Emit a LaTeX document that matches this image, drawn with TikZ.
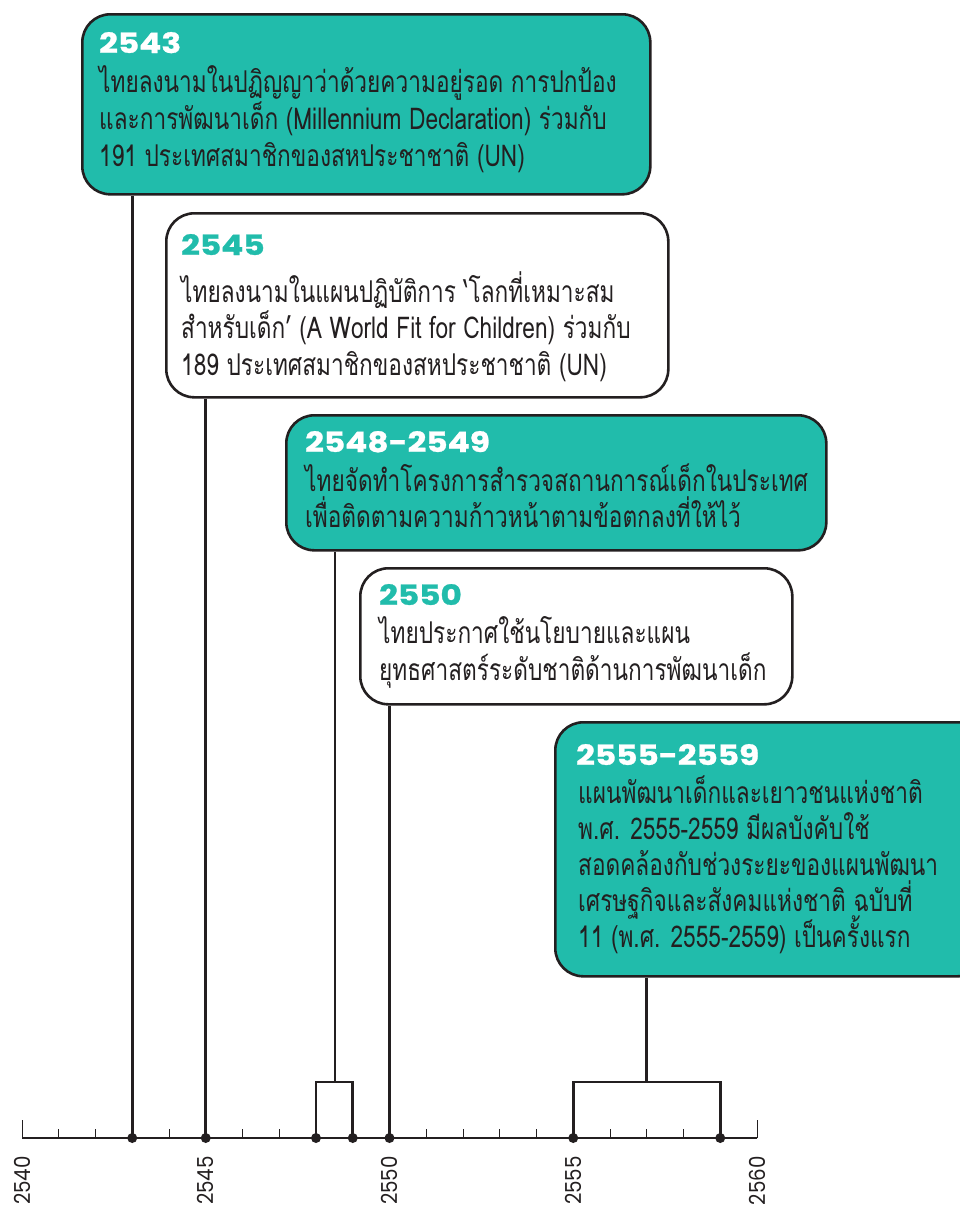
\documentclass[tikz,border=0pt]{standalone}
\usepackage{fontspec}
\newfontfamily\thaifont[Script=Thai,FakeStretch=0.755]{Loma}
\newfontfamily\titlefont{Poppins}[FakeStretch=1.17,FakeBold=1]
\newfontfamily\axisfont{Poppins}[FakeStretch=0.9]
\definecolor{teal}{HTML}{21BCAB}
\definecolor{ink}{HTML}{231F20}
\tikzset{
  box/.style={draw=ink, line width=2.6pt, rounded corners=28pt, anchor=north west, inner sep=0pt},
  tealbox/.style={box, fill=teal},
  whitebox/.style={box, fill=white},
  yeartitle/.style={anchor=base west, inner sep=0pt, font=\titlefont\bfseries\fontsize{28}{30}\selectfont},
  body/.style={anchor=base west, inner sep=0pt, text=ink, font=\thaifont\fontsize{30}{36}\selectfont},
  conn/.style={draw=ink, line width=2.6pt},
  axisline/.style={draw=ink, line width=1.4pt},
  tick/.style={draw=ink, line width=1pt},
  dot/.style={circle, fill=ink, inner sep=0pt, minimum size=10pt},
  yearlabel/.style={rotate=90, anchor=east, inner sep=0pt, text=ink, font=\axisfont\fontsize{22}{24}\selectfont}
}
\begin{document}
\begin{tikzpicture}[x=1pt,y=-1pt]
\useasboundingbox (0,0) rectangle (960,1208);
\clip (0,0) rectangle (960,1208);
% boxes
\node[tealbox, minimum width=568pt, minimum height=180pt] (b1) at (81,13) {};
\node[whitebox, minimum width=502pt, minimum height=184pt] (b2) at (165,212) {};
\node[tealbox, minimum width=540pt, minimum height=135pt] (b3) at (285,414) {};
\node[whitebox, minimum width=432pt, minimum height=136pt] (b4) at (359,567) {};
\node[tealbox, minimum width=430pt, minimum height=254pt] (b5) at (554,721) {};
% box 1
\node[yeartitle, text=white] (t1) at (99,53) {2543};
\node[body] (l11) at (99,92) {ไทยลงนามในปฏิญญาว่าด้วยความอยู่รอด การปกป้อง};
\node[body] (l12) at (99,129) {และการพัฒนาเด็ก (Millennium Declaration) ร่วมกับ};
\node[body] (l13) at (99,166) {191 ประเทศสมาชิกของสหประชาชาติ (UN)};
% box 2
\node[yeartitle, text=teal] (t2) at (181,255) {2545};
\node[body] (l21) at (181,302) {ไทยลงนามในแผนปฏิบัติการ ‘โลกที่เหมาะสม};
\node[body] (l22) at (181,338) {สำหรับเด็ก’ (A World Fit for Children) ร่วมกับ};
\node[body] (l23) at (181,375) {189 ประเทศสมาชิกของสหประชาชาติ (UN)};
% box 3
\node[yeartitle, text=white] (t3) at (305,452) {2548-2549};
\node[body] (l31) at (305,491) {ไทยจัดทำโครงการสำรวจสถานการณ์เด็กในประเทศ};
\node[body] (l32) at (305,527) {เพื่อติดตามความก้าวหน้าตามข้อตกลงที่ให้ไว้};
% box 4
\node[yeartitle, text=teal] (t4) at (379,605) {2550};
\node[body] (l41) at (379,643) {ไทยประกาศใช้นโยบายและแผน};
\node[body] (l42) at (379,680) {ยุทธศาสตร์ระดับชาติด้านการพัฒนาเด็ก};
% box 5
\node[yeartitle, text=white] (t5) at (576,765) {2555-2559};
\node[body] (l51) at (578,803) {แผนพัฒนาเด็กและเยาวชนแห่งชาติ};
\node[body] (l52) at (578,839) {พ.ศ. 2555-2559 มีผลบังคับใช้};
\node[body] (l53) at (578,875) {สอดคล้องกับช่วงระยะของแผนพัฒนา};
\node[body] (l54) at (578,911) {เศรษฐกิจและสังคมแห่งชาติ ฉบับที่};
\node[body] (l55) at (578,947) {11 (พ.ศ. 2555-2559) เป็นครั้งแรก};
% axis
\draw[axisline] (22,1138) -- (757,1138);
\foreach \k in {1,...,19} {\draw[tick] ({22+36.75*\k},1138) -- ({22+36.75*\k},1129);}
\draw[tick] (22,1138) -- (22,1120);
\draw[tick] (757,1138) -- (757,1120);
% dots
\node[dot] (p2543) at (132.25,1138) {};
\node[dot] (p2545) at (205.75,1138) {};
\node[dot] (p2548) at (316,1138) {};
\node[dot] (p2549) at (352.75,1138) {};
\node[dot] (p2550) at (389.5,1138) {};
\node[dot] (p2555) at (573.25,1138) {};
\node[dot] (p2559) at (720.25,1138) {};
\coordinate (j1) at (335,1082);
\coordinate (j2) at (646.75,1082);
% connectors
\draw[conn] (p2543 |- b1.south) -- (p2543.center);
\draw[conn] (p2545 |- b2.south) -- (p2545.center);
\draw[conn] (j1 |- b3.south) -- (j1);
\draw[conn] (p2548.center) -- (p2548 |- j1) -- (p2549 |- j1) -- (p2549.center);
\draw[conn] (p2550 |- b4.south) -- (p2550.center);
\draw[conn] (j2 |- b5.south) -- (j2);
\draw[conn] (p2555.center) -- (p2555 |- j2) -- (p2559 |- j2) -- (p2559.center);
% axis labels
\node[yearlabel] (y2540) at (22,1156) {2540};
\node[yearlabel] (y2545) at (205.75,1156) {2545};
\node[yearlabel] (y2550) at (389.5,1156) {2550};
\node[yearlabel] (y2555) at (573.25,1156) {2555};
\node[yearlabel] (y2560) at (757,1156) {2560};
\end{tikzpicture}
\end{document}
